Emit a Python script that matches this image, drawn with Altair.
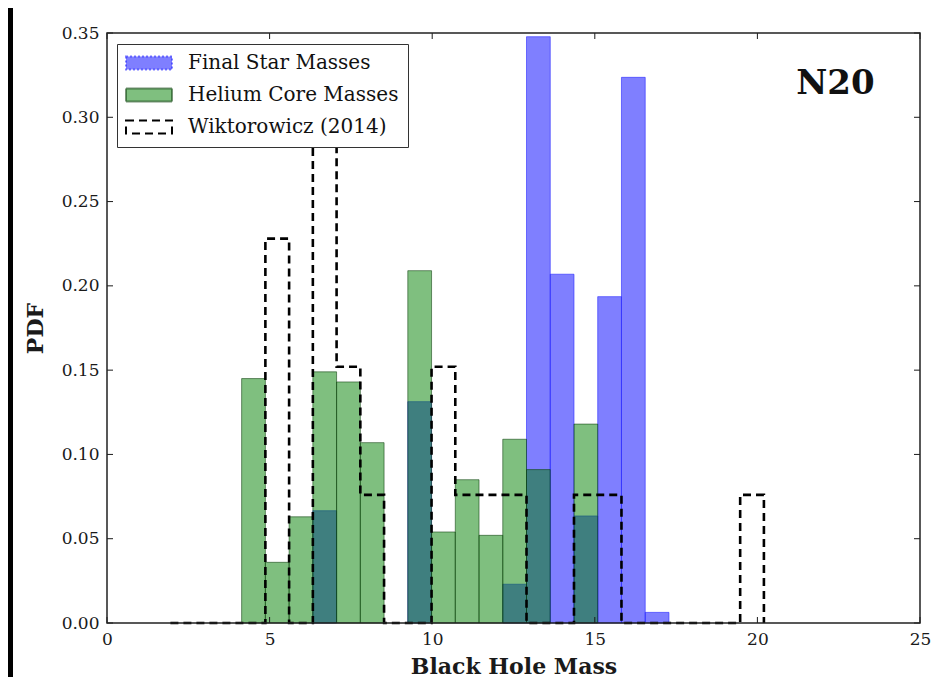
import altair as alt
import pandas as pd

# ---------------- data ----------------
bin_edges = [1.95, 2.68, 3.41, 4.14, 4.87, 5.60, 6.33, 7.06, 7.79, 8.52, 9.25, 9.98,
             10.71, 11.44, 12.17, 12.90, 13.63, 14.36, 15.09, 15.82, 16.55, 17.28,
             18.01, 18.74, 19.47, 20.20]
final_star_pdf = [0, 0, 0, 0, 0, 0, 0.0666, 0, 0, 0, 0.1313, 0, 0, 0, 0.023,
                  0.3478, 0.2069, 0.0635, 0.1936, 0.3237, 0.0063, 0, 0, 0, 0]
helium_core_pdf = [0, 0, 0, 0.145, 0.036, 0.063, 0.149, 0.143, 0.107, 0, 0.209,
                   0.054, 0.085, 0.052, 0.109, 0.091, 0, 0.118, 0, 0, 0, 0, 0, 0, 0]
wiktorowicz_pdf = [0, 0, 0, 0, 0.228, 0, 0.304, 0.152, 0.076, 0, 0, 0.152, 0.076,
                   0.076, 0.076, 0, 0, 0.076, 0.076, 0, 0, 0, 0, 0, 0.076]
series_names = ["Final Star Masses", "Helium Core Masses", "Wiktorowicz (2014)"]
x_ticks = [0, 5, 10, 15, 20, 25]
y_ticks = [0.0, 0.05, 0.10, 0.15, 0.20, 0.25, 0.30, 0.35]
panel_label = "N20"

# ---------------- tables ----------------
bar_rows = []
for name, vals in [(series_names[0], final_star_pdf), (series_names[1], helium_core_pdf)]:
    for i, v in enumerate(vals):
        if v > 0:
            bar_rows.append({"series": name, "x0": bin_edges[i], "x1": bin_edges[i + 1],
                             "v": v, "base": 0.0})
bars_df = pd.DataFrame(bar_rows)

step_rows = [(bin_edges[0], 0.0)]
for i, v in enumerate(wiktorowicz_pdf):
    step_rows.append((bin_edges[i], v))
    step_rows.append((bin_edges[i + 1], v))
step_rows.append((bin_edges[-1], 0.0))
step_df = pd.DataFrame({"e": [r[0] for r in step_rows], "p": [r[1] for r in step_rows],
                        "k": list(range(len(step_rows))), "series": series_names[2]})

W, H = 813, 590
FONT = "DejaVu Serif"
INK = "#1a1a1a"

xs = alt.Scale(domain=[0, 25], nice=False, zero=False)
ys = alt.Scale(domain=[0, 0.35], nice=False)

fill_range = ["rgba(0,0,255,0.5)", "rgba(0,128,0,0.5)", "rgba(0,0,0,0)"]
stroke_range = ["rgba(40,40,255,0.6)", "rgba(10,60,10,0.55)", "#000000"]
dash_range = [[2, 2], [1, 0], [8, 5]]
sym = "M-4.6,-1.3H4.6V1.3H-4.6Z"
leg = alt.Legend(symbolType=sym)

fill_enc = alt.Fill("series:N", scale=alt.Scale(domain=series_names, range=fill_range),
                    title=None, legend=leg)
stroke_enc = alt.Stroke("series:N", scale=alt.Scale(domain=series_names, range=stroke_range),
                        title=None, legend=leg)
dash_enc = alt.StrokeDash("series:N", scale=alt.Scale(domain=series_names, range=dash_range),
                          title=None, legend=leg)

x_axis = alt.Axis(
    values=x_ticks, format="d", ticks=False, domain=False, grid=False, labelFlush=False,
    labelFont=FONT, labelFontSize=17, labelColor=INK, labelPadding=8,
    title="Black Hole Mass", titleFont=FONT, titleFontSize=22, titleFontWeight="bold",
    titleColor=INK, titlePadding=9)
y_axis = alt.Axis(
    values=y_ticks, format=".2f", ticks=False, domain=False, grid=False, labelFlush=False,
    labelFont=FONT, labelFontSize=17, labelColor=INK, labelPadding=8,
    title="PDF", titleFont=FONT, titleFontSize=22, titleFontWeight="bold",
    titleColor=INK, titlePadding=14)


def X(field):
    return alt.X(field, scale=xs, axis=x_axis, title="Black Hole Mass")


def Y(field):
    return alt.Y(field, scale=ys, axis=y_axis, title="PDF")


# dark photo border on the left edge of the figure
edge = alt.Chart(pd.DataFrame({"a": [0]})).mark_rect(color="black").encode(
    x=alt.value(-99), x2=alt.value(-94), y=alt.value(-25), y2=alt.value(H + 54))

bars = alt.Chart(bars_df).mark_rect(strokeWidth=1).encode(
    x=X("x0:Q"), x2="x1:Q", y=Y("v:Q"), y2="base:Q",
    fill=fill_enc, stroke=stroke_enc, strokeDash=dash_enc,
)

step = alt.Chart(step_df).mark_line(strokeWidth=2.6).encode(
    x=X("e:Q"), y=Y("p:Q"), order="k:Q",
    stroke=stroke_enc, strokeDash=dash_enc,
)

yt = pd.DataFrame({"t": y_ticks})
xt = pd.DataFrame({"t": x_ticks})
tick_l = alt.Chart(yt).mark_rule(color=INK, strokeWidth=1).encode(
    y=Y("t:Q"), x=alt.value(0), x2=alt.value(6))
tick_r = alt.Chart(yt).mark_rule(color=INK, strokeWidth=1).encode(
    y=Y("t:Q"), x=alt.value(W - 6), x2=alt.value(W))
tick_b = alt.Chart(xt).mark_rule(color=INK, strokeWidth=1).encode(
    x=X("t:Q"), y=alt.value(H - 6), y2=alt.value(H))
tick_t = alt.Chart(xt).mark_rule(color=INK, strokeWidth=1).encode(
    x=X("t:Q"), y=alt.value(0), y2=alt.value(6))

label = alt.Chart(pd.DataFrame({"x": [22.4], "y": [0.3138], "t": [panel_label]})).mark_text(
    font=FONT, fontSize=34, fontWeight="bold", color="#111", align="center",
    baseline="alphabetic").encode(x=X("x:Q"), y=Y("y:Q"), text="t:N")

frame = alt.Chart(pd.DataFrame({"a": [0]})).mark_rect(
    fillOpacity=0, stroke="#222", strokeWidth=1.5).encode(
    x=alt.value(0), x2=alt.value(W), y=alt.value(0), y2=alt.value(H))

chart = alt.layer(edge, bars, step, tick_l, tick_r, tick_b, tick_t, label, frame).properties(
    width=W, height=H,
    background="white",
    padding={"left": 99, "top": 25, "right": 17, "bottom": 54},
    autosize=alt.AutoSizeParams(type="none"),
).configure_view(stroke=None).configure_legend(
    orient="none", legendX=10, legendY=11,
    padding=9, strokeColor="#333", fillColor="white", cornerRadius=0,
    labelFont=FONT, labelFontSize=20, labelColor="#111", labelOffset=29,
    symbolSize=100, symbolOffset=13, symbolStrokeWidth=2, rowPadding=10, labelLimit=400,
)

chart.save("out.html", embed_options={"renderer": "svg", "actions": False})
